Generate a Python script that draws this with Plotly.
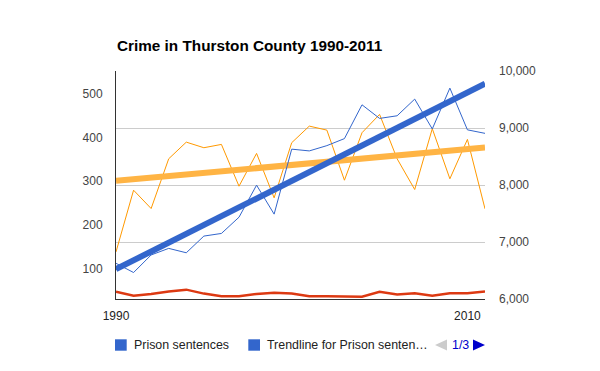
import numpy as np
import plotly.graph_objects as go

years = list(range(1990, 2012))
prison_sentences = [113, 92, 132, 147, 137, 175, 181, 218, 291, 225, 373,
                    369, 381, 397, 474, 443, 449, 487, 419, 512, 417, 409]
total_crimes = [6826, 7909, 7587, 8460, 8752, 8654, 8712, 7979, 8554, 7775, 8742,
                9033, 8963, 8084, 8917, 9239, 8460, 7921, 8988, 8109, 8800, 7582]
violent_crimes = [48, 39, 43, 49, 53, 44, 38, 38, 43, 46, 44,
                  38, 38, 37, 37, 48, 42, 45, 39, 45, 45, 49]
left_ticks = [100, 200, 300, 400, 500]
right_ticks = [6000, 7000, 8000, 9000, 10000]
x_ticks = [1990, 2010]
title_text = "Crime in Thurston County 1990-2011"
legend_labels = ["Prison sentences", "Trendline for Prison senten\u2026"]
page_text = "1/3"

BLUE = "#3366cc"
ORANGE = "#ff9900"
ORANGE_TREND = "#ffb444"
RED = "#dc3912"
FONT = "Arial, Liberation Sans, sans-serif"

W, H = 600, 371
L, R, T, B = 116, 485, 71, 299
OFF = 8  # page body margin offset


def px(x):
    return (x - L) / (R - L)


def py(y):
    return (B - y) / (B - T)


def trend(xs, ys):
    k, b = np.polyfit(xs, ys, 1)
    return [k * x + b for x in xs]


fig = go.Figure()
fig.add_trace(go.Scatter(x=years, y=total_crimes, mode="lines", name="Total crimes",
                         line=dict(color=ORANGE, width=1), yaxis="y", showlegend=False))
fig.add_trace(go.Scatter(x=years, y=trend(years, total_crimes), mode="lines",
                         name="Trendline for Total crimes",
                         line=dict(color=ORANGE_TREND, width=6), yaxis="y", showlegend=False))
fig.add_trace(go.Scatter(x=years, y=violent_crimes, mode="lines", name="Violent crimes",
                         line=dict(color=RED, width=2.5), yaxis="y2", showlegend=False))
fig.add_trace(go.Scatter(x=years, y=prison_sentences, mode="lines", name="Prison sentences",
                         line=dict(color=BLUE, width=1), yaxis="y2", showlegend=False))
fig.add_trace(go.Scatter(x=years, y=trend(years, prison_sentences), mode="lines",
                         name="Trendline for Prison sentences",
                         line=dict(color=BLUE, width=6), yaxis="y2", showlegend=False))

fig.update_layout(
    width=W, height=H, autosize=False,
    margin=dict(l=L - OFF, r=W - R + OFF, t=T - OFF, b=H - B + OFF, pad=0),
    paper_bgcolor="white", plot_bgcolor="white",
    font=dict(family=FONT, size=12, color="#444444"),
    showlegend=False,
    xaxis=dict(range=[1990, 2011], tickvals=x_ticks, ticktext=[str(v) for v in x_ticks],
               showgrid=False, zeroline=False, showline=True, linecolor="#333333",
               linewidth=1, ticks="", ticklabelstandoff=6,
               tickfont=dict(family=FONT, size=12, color="#222222")),
    yaxis=dict(side="right", range=[6000, 10000], tickvals=right_ticks,
               tickformat=",", showgrid=True, gridcolor="#cccccc", gridwidth=1,
               zeroline=False, showline=False, ticks="", ticklabelstandoff=13,
               tickfont=dict(family=FONT, size=12, color="#444444")),
    yaxis2=dict(side="left", overlaying="y", range=[31.7, 551], tickvals=left_ticks,
                showgrid=False, zeroline=False, showline=True, linecolor="#333333",
                linewidth=1, ticks="", ticklabelstandoff=10,
                tickfont=dict(family=FONT, size=12, color="#444444")),
)

annotations = [
    dict(text="<b>" + title_text + "</b>", x=px(115), y=py(45.4), xref="paper", yref="paper",
         xanchor="left", yanchor="middle", showarrow=False,
         font=dict(family=FONT, size=15.3, color="#000000")),
    dict(text=legend_labels[0], x=px(132), y=py(345), xref="paper", yref="paper",
         xanchor="left", yanchor="middle", showarrow=False,
         font=dict(family=FONT, size=12.4, color="#222222")),
    dict(text=legend_labels[1], x=px(265), y=py(345), xref="paper", yref="paper",
         xanchor="left", yanchor="middle", showarrow=False,
         font=dict(family=FONT, size=12.4, color="#222222")),
    dict(text=page_text, x=px(460), y=py(345), xref="paper", yref="paper",
         xanchor="center", yanchor="middle", showarrow=False,
         font=dict(family=FONT, size=12.4, color="#0000cc")),
]
fig.update_layout(annotations=annotations)

shapes = [
    dict(type="rect", xref="paper", yref="paper", x0=px(115), x1=px(126.7),
         y0=py(350.7), y1=py(339.3), fillcolor=BLUE, line=dict(width=0)),
    dict(type="rect", xref="paper", yref="paper", x0=px(248.3), x1=px(260),
         y0=py(350.7), y1=py(339.3), fillcolor=BLUE, line=dict(width=0)),
    dict(type="path", xref="paper", yref="paper",
         path=f"M {px(435)} {py(345)} L {px(447)} {py(339.5)} L {px(447)} {py(350.5)} Z",
         fillcolor="#cccccc", line=dict(width=0)),
    dict(type="path", xref="paper", yref="paper",
         path=f"M {px(485)} {py(345)} L {px(473)} {py(339.5)} L {px(473)} {py(350.5)} Z",
         fillcolor="#0000cc", line=dict(width=0)),
]
fig.update_layout(shapes=shapes)

fig.write_html("out.html")
